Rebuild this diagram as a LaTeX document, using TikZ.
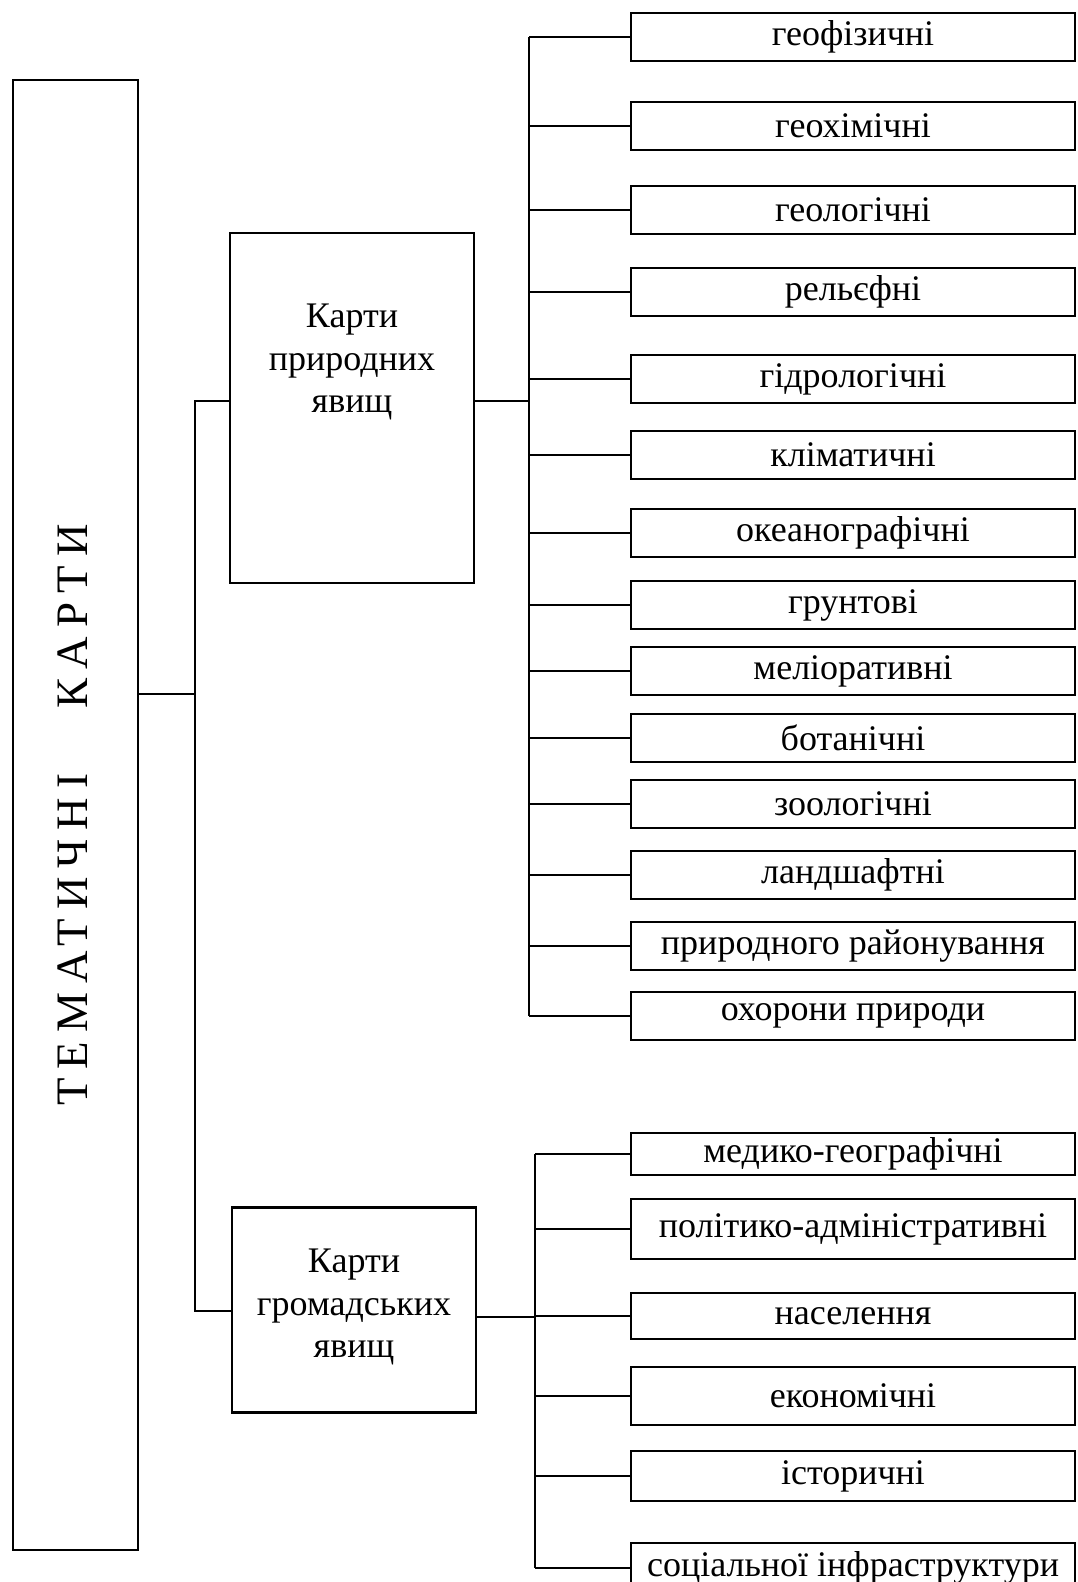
\documentclass[tikz,border=0pt]{standalone}
\usepackage{fontspec}
\setmainfont{Liberation Serif}
\begin{document}
\begin{tikzpicture}[x=1pt,y=-1pt,
  box/.style={draw, line width=2.3pt, inner sep=0pt, align=center},
  leaf/.style={box, minimum width=444pt, minimum height=48pt, font=\fontsize{36}{40}\selectfont},
  mid/.style={box, minimum width=244pt},
  midtext/.style={align=center, inner sep=0pt, font=\fontsize{36}{42.5}\selectfont},
  conn/.style={line width=2.3pt}]
\useasboundingbox (0,0) rectangle (1077,1582);
% root
\node[box, minimum width=125pt, minimum height=1470pt] (root) at (75.5,815) {};
\node[rotate=90, inner sep=0pt,
  font=\fontsize{45}{48}\selectfont\addfontfeature{LetterSpace=20}] (title) at (73,815) {ТЕМАТИЧНІ\hspace{45pt} КАРТИ};
% second level
\node[mid, minimum height=350pt] (nat) at (352,408) {};
\node[midtext] (natt) at (352,362) {Карти\\природних\\явищ};
\node[mid, minimum height=205pt] (soc) at (354,1310) {};
\node[midtext] (soct) at (354,1307) {Карти\\громадських\\явищ};
% trunk
\coordinate (t0) at (195,694);
\coordinate (tt) at (195,401);
\coordinate (tb) at (195,1311);
\draw[conn] (root.east |- t0) -- (t0);
\draw[conn] (nat.west |- tt) -- (tt) -- (tb) -- (soc.west |- tb);
% natural leaves
\foreach \n/\y/\t in {
  a1/37/геофізичні, a2/126/геохімічні, a3/210/геологічні, a4/292/рельєфні,
  a5/379/гідрологічні, a6/455/кліматичні, a7/533/океанографічні, a8/605/грунтові,
  a9/671/меліоративні, a10/738/ботанічні, a11/804/зоологічні, a12/875/ландшафтні,
  a13/946/природного районування, a14/1016/охорони природи}{
  \node[leaf] (\n) at (853,\y) {\t};
  \draw[conn] (529,\y) -- (\n.west);
}
\coordinate (ut) at (529,37);
\coordinate (ub) at (529,1016);
\draw[conn] (nat.east |- 0,401) -- (ut |- 0,401);
\draw[conn] (ut) -- (ub);
% social leaves
\foreach \n/\y/\h/\t in {
  b1/1154/42/медико-географічні, b2/1229/60/політико-адміністративні,
  b3/1316/46/населення, b4/1396/58/економічні, b5/1476/50/історичні}{
  \node[leaf, minimum height=\h pt] (\n) at (853,\y) {\t};
  \draw[conn] (535,\y) -- (\n.west);
}
\node[leaf, minimum height=50pt] (b6) at (853,1568) {соціальної інфраструктури};
\draw[conn] (535,1568) -- (b6.west);
\coordinate (lt) at (535,1154);
\coordinate (lb) at (535,1568);
\draw[conn] (soc.east |- 0,1317) -- (lt |- 0,1317);
\draw[conn] (lt) -- (lb);
\end{tikzpicture}
\end{document}
